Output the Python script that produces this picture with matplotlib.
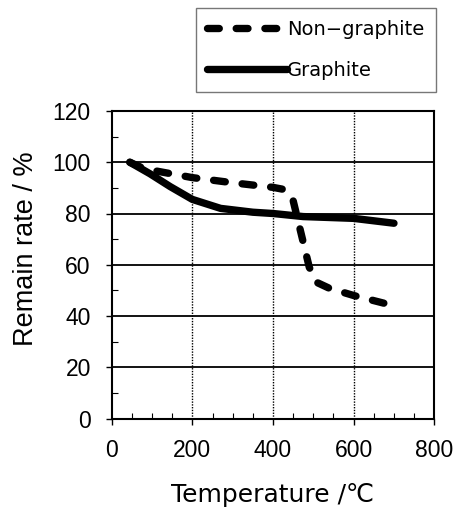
import matplotlib
matplotlib.use('Agg')
import matplotlib.pyplot as plt
from matplotlib.ticker import MultipleLocator

# Remain rate vs temperature for the two carbon samples
temp_graphite = [45, 95, 145, 200, 270, 350, 400, 475, 600, 700]
rate_graphite = [100, 95.5, 90.5, 85.5, 82, 80.5, 80, 78.8, 78.1, 76.2]

temp_nongraphite = [45, 80, 120, 200, 300, 400, 430, 450, 470, 490, 510, 540, 600, 700]
rate_nongraphite = [100, 97.5, 96.3, 94, 92, 90.2, 89.3, 85, 72, 59, 53, 50.8, 48, 44]

x_ticks = [0, 200, 400, 600, 800]
y_ticks = [0, 20, 40, 60, 80, 100, 120]

W, H = 460, 508
fig = plt.figure(figsize=(W / 100, H / 100), dpi=100)
ax = fig.add_axes([111.7 / W, 1 - 418.5 / H, 322.6 / W, 307.5 / H])

nongraphite, = ax.plot(temp_nongraphite, rate_nongraphite, color='black', lw=5.3,
                       dashes=(1.6, 2.3), dash_capstyle='round', solid_capstyle='round',
                       label='Non\u2212graphite', zorder=3)
graphite, = ax.plot(temp_graphite, rate_graphite, color='black', lw=5.3,
                    solid_capstyle='round', label='Graphite', zorder=3)

ax.set_xlim(0, 800)
ax.set_ylim(0, 120)
ax.set_xticks(x_ticks)
ax.set_yticks(y_ticks)
ax.xaxis.set_minor_locator(MultipleLocator(50))
ax.yaxis.set_minor_locator(MultipleLocator(10))

# horizontal grid solid, vertical grid dotted
for y in y_ticks[1:-1]:
    ax.axhline(y, color='black', lw=1.3, zorder=1)
for x in x_ticks[1:-1]:
    ax.axvline(x, color='black', lw=1.0, ls=(0, (1, 1)), zorder=1)

for s in ax.spines.values():
    s.set_linewidth(1.5)

ax.tick_params(which='major', direction='out', length=4, width=1, pad=11,
               labelsize=16.5, top=False, right=False)
ax.tick_params(which='minor', direction='in', length=4, width=0.8, top=False, right=False)
for lbl in ax.get_xticklabels() + ax.get_yticklabels():
    lbl.set_family('Liberation Sans')

ax.set_xlabel('Temperature /\u2103', family=['DejaVu Sans', 'Noto Sans CJK JP'],
              fontsize=18, labelpad=15)
fig.text(26.5 / W, 1 - 248.5 / H, 'Remain rate / %',
         family='Liberation Sans', fontsize=19.5,
         rotation=90, ha='center', va='center')

leg = fig.legend(handles=[nongraphite, graphite], loc='upper right',
                 bbox_to_anchor=(436 / W, 1 - 8 / H), prop={'family': 'DejaVu Sans', 'size': 14},
                 handlelength=4.1, handletextpad=0.0, labelspacing=1.15, borderpad=0.6,
                 borderaxespad=0, fancybox=False, framealpha=1)
leg.get_frame().set_edgecolor('#777777')
leg.get_frame().set_linewidth(1.0)

fig.savefig('out.png', dpi=100)
